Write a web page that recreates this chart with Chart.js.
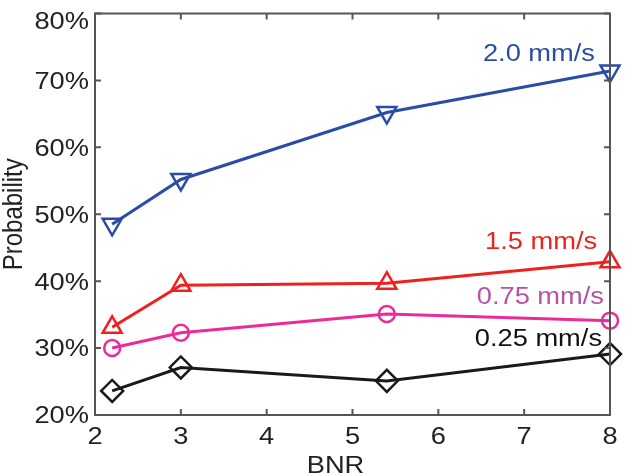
<!DOCTYPE html>
<html><head><meta charset="utf-8">
<script src="https://cdn.jsdelivr.net/npm/chart.js@4/dist/chart.umd.min.js"></script>
<style>html,body{margin:0;padding:0;background:#fff}#wrap{width:625px;height:476px}</style>
</head><body><div id="wrap"><canvas id="c" width="625" height="476"></canvas></div>
<script>
const bnr = [2.2, 3, 5.4, 8];
const v20 = [48.5, 55.2, 65.2, 71.4];
const v15 = [33.1, 39.4, 39.7, 42.9];
const v075 = [30.0, 32.3, 35.1, 34.1];
const v025 = [23.6, 27.1, 25.1, 29.1];
const xTicks = [2, 3, 4, 5, 6, 7, 8];
const yTicks = [20, 30, 40, 50, 60, 70, 80];
const seriesLabels = ['2.0 mm/s', '1.5 mm/s', '0.75 mm/s', '0.25 mm/s'];
// label anchor (right edge x, vertical centre y) in data units
const labelX = [7.825, 7.85, 7.93, 7.907];
const labelY = [74.1, 46.0, 37.8, 31.5];
const xTitle = 'BNR';
const yTitle = 'Probability';

const FONT = '"Liberation Sans", Arial, sans-serif';
const FS = 23.5;      // font size
const SX = 1.16;      // horizontal stretch of the original text
const CAP = 0.716 * FS;
const colors = ['#2a4ca8', '#f0201e', '#ea2c9a', '#1a1a1a'];
const labelColors = ['#2a4ca8', '#f0201e', '#b553a5', '#111111'];
const styles = ['triangle', 'triangle', 'circle', 'rectRot'];
const rotations = [180, 0, 0, 0];
const radii = [11, 11, 8, 11];
const values = [v20, v15, v075, v025];

const datasets = values.map((vals, i) => ({
  label: seriesLabels[i],
  data: bnr.map((x, j) => ({x: x, y: vals[j]})),
  borderColor: colors[i],
  backgroundColor: 'rgba(0,0,0,0)',
  pointBackgroundColor: 'rgba(0,0,0,0)',
  pointBorderColor: colors[i],
  pointStyle: styles[i],
  pointRotation: rotations[i],
  pointRadius: radii[i],
  pointBorderWidth: 2.5,
  borderWidth: 3,
  clip: false,
  tension: 0
}));

function stretchedText(ctx, text, x, baseline, align) {
  ctx.save();
  ctx.translate(x, baseline);
  ctx.scale(SX, 1);
  ctx.textAlign = align;
  ctx.textBaseline = 'alphabetic';
  ctx.fillText(text, 0, 0);
  ctx.restore();
}

const framePlugin = {
  id: 'frame',
  afterDatasetsDraw(chart) {
    const {ctx, chartArea: a, scales} = chart;
    ctx.save();
    ctx.strokeStyle = '#555555';
    ctx.lineWidth = 2;
    ctx.strokeRect(a.left, a.top, a.right - a.left, a.bottom - a.top);
    const tl = 6;
    ctx.beginPath();
    xTicks.forEach(t => {
      const px = scales.x.getPixelForValue(t);
      ctx.moveTo(px, a.bottom); ctx.lineTo(px, a.bottom - tl);
      ctx.moveTo(px, a.top); ctx.lineTo(px, a.top + tl);
    });
    yTicks.forEach(t => {
      const py = scales.y.getPixelForValue(t);
      ctx.moveTo(a.left, py); ctx.lineTo(a.left + tl, py);
      ctx.moveTo(a.right, py); ctx.lineTo(a.right - tl, py);
    });
    ctx.stroke();

    ctx.font = FS + 'px ' + FONT;
    ctx.fillStyle = '#222222';
    // x tick labels
    xTicks.forEach(t => {
      stretchedText(ctx, String(t), scales.x.getPixelForValue(t), a.bottom + 29, 'center');
    });
    // y tick labels
    yTicks.forEach(t => {
      let cy = scales.y.getPixelForValue(t);
      cy = Math.max(cy, a.top + 7);
      stretchedText(ctx, t + '%', a.left - 6, cy + CAP / 2, 'right');
    });
    // axis titles
    stretchedText(ctx, xTitle, (a.left + a.right) / 2 - 17, a.bottom + 58, 'center');
    ctx.save();
    ctx.translate(22, (a.top + a.bottom) / 2);
    ctx.rotate(-Math.PI / 2);
    ctx.scale(1, SX);
    ctx.textAlign = 'center';
    ctx.textBaseline = 'alphabetic';
    ctx.font = '24px ' + FONT;
    ctx.fillText(yTitle, 0, 0);
    ctx.restore();

    // series labels
    seriesLabels.forEach((s, i) => {
      ctx.fillStyle = labelColors[i];
      stretchedText(ctx, s, scales.x.getPixelForValue(labelX[i]), scales.y.getPixelForValue(labelY[i]) + CAP / 2, 'right');
    });
    ctx.restore();
  }
};

new Chart(document.getElementById('c'), {
  type: 'line',
  data: {datasets},
  options: {
    responsive: false,
    animation: false,
    layout: {padding: {top: 10, right: 15, left: 0, bottom: 0}},
    plugins: {legend: {display: false}, tooltip: {enabled: false}},
    scales: {
      x: {
        type: 'linear', min: 2, max: 8,
        afterFit: s => { s.height = 61; },
        grid: {display: false, drawTicks: false},
        border: {display: false},
        ticks: {display: false}
      },
      y: {
        type: 'linear', min: 20, max: 80,
        afterFit: s => { s.width = 95; },
        grid: {display: false, drawTicks: false},
        border: {display: false},
        ticks: {display: false}
      }
    }
  },
  plugins: [framePlugin]
});
</script></body></html>
